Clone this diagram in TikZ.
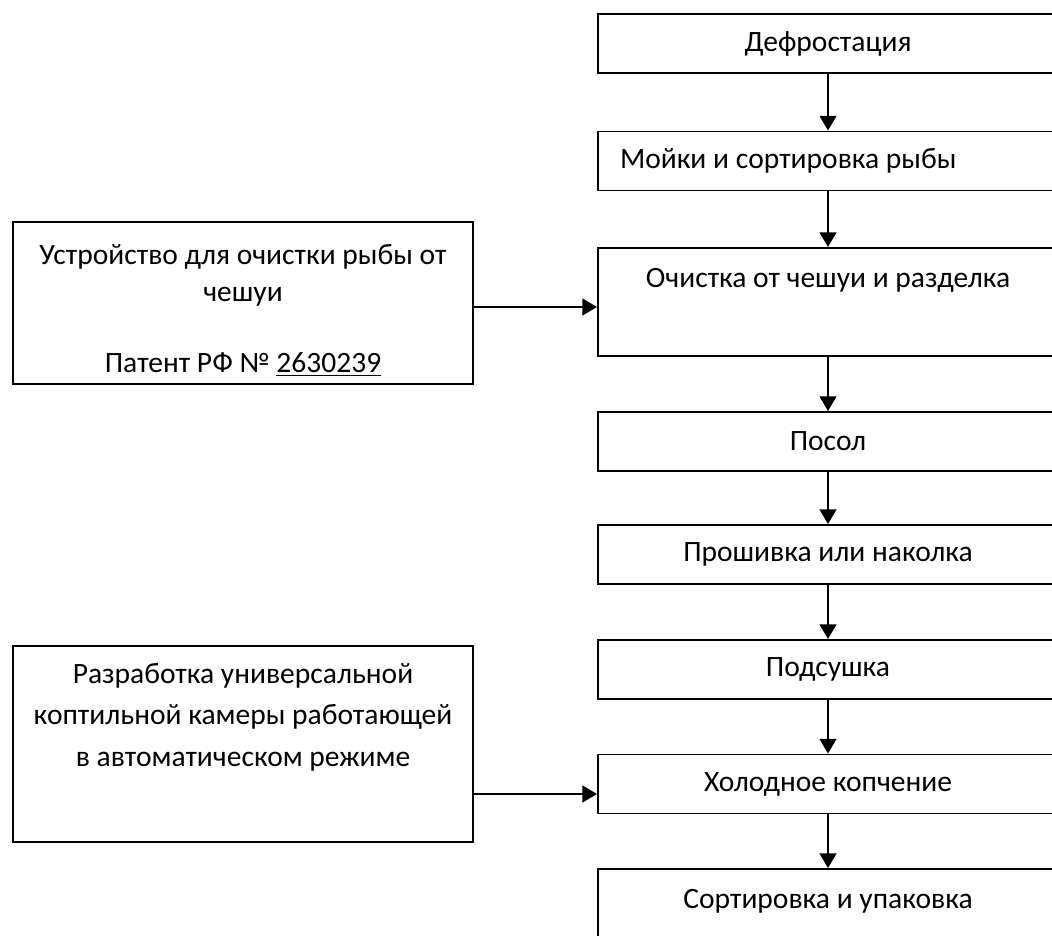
\documentclass[tikz,border=0pt]{standalone}
\usepackage{fontspec}
\setmainfont{Carlito}
\usepackage{tikz}
\usetikzlibrary{arrows.meta, positioning}

\begin{document}
\begin{tikzpicture}[
    box/.style={rectangle, draw, line width=1.4pt, inner sep=0pt, minimum width=11.5cm, minimum height=1.475cm, align=center, font=\fontsize{21}{26.3}\selectfont},
    tallbox/.style={box, minimum height=2.7cm},
    arrow/.style={-{Triangle[length=10.5pt, width=12pt]}, line width=1.4pt}
]
    \useasboundingbox (0,0) rectangle (26.3,-23.375);
    \clip (0,0) rectangle (26.3,-23.375);

    % Process steps
    \node[box] (defrost) at (20.7,-1.0875) {Дефростация};
    \node[box, text width=10.4cm, align=flush left] (wash) at (20.7,-4.025) {Мойки и сортировка рыбы};
    \node[tallbox] (scale) at (20.7,-7.55) {Очистка от чешуи и разделка\\[8pt]\mbox{}};
    \node[box] (salt) at (20.7,-11.0375) {Посол};
    \node[box] (stitch) at (20.7,-13.8625) {Прошивка или наколка};
    \node[box] (dry) at (20.7,-16.7375) {Подсушка};
    \node[box] (smoke) at (20.7,-19.6) {Холодное копчение};
    \node[tallbox] (pack) at (20.7,-23.075) {Сортировка и упаковка\\[8pt]\mbox{}};

    % Equipment
    \node[box, minimum height=4.05cm] (scaler) at (6.075,-7.575)
        {\rule{0pt}{24pt}Устройство для очистки рыбы от\\ чешуи\\[24.7pt] Патент РФ № \underline{2630239}};
    \node[box, minimum height=4.9cm, font=\fontsize{21}{29.5}\selectfont] (chamber) at (6.075,-18.6)
        {Разработка универсальной\\ коптильной камеры работающей\\ в автоматическом режиме\\[12pt]\mbox{}};

    \draw[arrow] (defrost) -- (wash);
    \draw[arrow] (wash) -- (scale);
    \draw[arrow] (scale) -- (salt);
    \draw[arrow] (salt) -- (stitch);
    \draw[arrow] (stitch) -- (dry);
    \draw[arrow] (dry) -- (smoke);
    \draw[arrow] (smoke) -- (pack);
    \draw[arrow] ([yshift=-0.125cm]scale.west -| scaler.east) -- ([yshift=-0.125cm]scale.west);
    \draw[arrow] ([yshift=-0.25cm]smoke.west -| chamber.east) -- ([yshift=-0.25cm]smoke.west);
\end{tikzpicture}
\end{document}
